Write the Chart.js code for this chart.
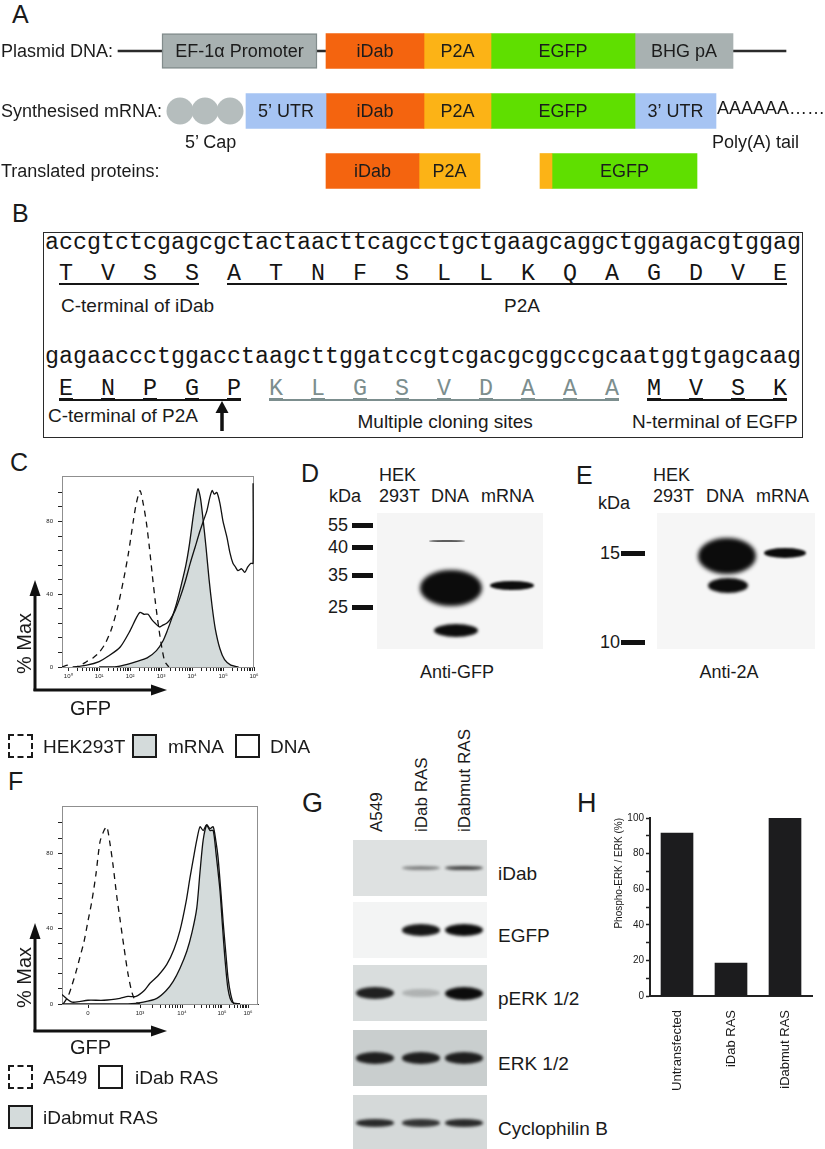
<!DOCTYPE html>
<html>
<head>
<meta charset="utf-8">
<script src="https://cdn.jsdelivr.net/npm/chart.js@4.4.1/dist/chart.umd.min.js"></script>
<style>
html, body { margin: 0; padding: 0; background: #fff; }
#fig { position: relative; width: 825px; height: 1149px; overflow: hidden; font-family: "Liberation Sans", Arial, sans-serif; color: #1a1a1a; }
.t { position: absolute; white-space: pre; line-height: 1; }
.box { position: absolute; box-sizing: border-box; }
canvas { position: absolute; }
</style>
</head>
<body>
<div id="fig"></div>
<script>
// ---------- A: construct map (map units across the figure)
var mapRows = ['Plasmid DNA:', 'Synthesised mRNA:', 'Translated proteins:'];
var backboneSeg = [[118, 786], null, null];
var promoterSeg = [[162, 317], null, null];
var utr5Seg = [null, [246, 326], null];
var idabSeg = [[326, 424], [326, 424], [326, 419]];
var p2aSeg = [[424, 491], [424, 491], [419, 480]];
var p2aTailSeg = [null, null, [540, 552]];
var egfpSeg = [[491, 635], [491, 635], [552, 697]];
var bhgSeg = [[635, 733], null, null];
var utr3Seg = [null, [635, 716], null];
var capBeads = [180, 205, 230];

// ---------- B: junction sequence
var seqRow1 = 'accgtctcgagcgctactaacttcagcctgctgaagcaggctggagacgtggag';
var aaRow1 = ['TVSS', 'ATNFSLLKQAGDVE'];
var regionRow1 = ['C-terminal of iDab', 'P2A'];
var seqRow2 = 'gagaaccctggacctaagcttggatccgtcgacgcggccgcaatggtgagcaag';
var aaRow2 = ['ENPGP', 'KLGSVDAAA', 'MVSK'];
var regionRow2 = ['C-terminal of P2A', 'Multiple cloning sites', 'N-terminal of EGFP'];

// ---------- C: HEK293T flow histograms (x = log10 GFP, y = % of max)
var cHekX = [-0.2, 0.0, 0.2, 0.4, 0.6, 0.8, 1.0, 1.2, 1.4, 1.6, 1.8, 1.95, 2.1, 2.2, 2.32, 2.42, 2.52, 2.62, 2.72, 2.82, 2.92, 3.02, 3.12, 3.25];
var cHekY = [0, 1, 0, 1, 3, 5, 8, 13, 21, 33, 49, 63, 80, 90, 97, 90, 80, 66, 50, 35, 22, 11, 3, 0];
var cMrnaX = [1.0, 1.5, 1.8, 2.2, 2.55, 2.85, 3.05, 3.2, 3.35, 3.5, 3.65, 3.8, 3.92, 4.03, 4.12, 4.19, 4.27, 4.35, 4.45, 4.55, 4.65, 4.75, 4.9, 5.05, 5.25, 5.5];
var cMrnaY = [0, 0, 1, 3, 5, 9, 14, 20, 27, 35, 45, 56, 68, 82, 92, 98, 93, 82, 66, 48, 33, 21, 10, 4, 1, 0];
var cDnaX = [0.2, 0.6, 1.0, 1.3, 1.68, 2.0, 2.2, 2.32, 2.45, 2.58, 2.7, 2.81, 2.95, 3.06, 3.18, 3.29, 3.45, 3.61, 3.78, 3.94, 4.1, 4.26, 4.38, 4.48, 4.57, 4.65, 4.72, 4.8, 4.9, 5.0, 5.13, 5.22, 5.32, 5.4, 5.48, 5.6, 5.7, 5.8, 5.9, 5.97, 5.97];
var cDnaY = [0, 1, 3, 6, 11, 20, 27, 30, 29, 29, 26, 24, 22, 23, 24, 26, 31, 38, 47, 57, 66, 75, 81, 86, 93, 97, 95, 96, 90, 80, 71, 63, 57, 55, 53, 54, 52, 55, 57, 57, 101];
var cTickLabels = ['10⁰', '10¹', '10²', '10³', '10⁴', '10⁵', '10⁶'];

// ---------- F: A549 flow histograms (x in display units of the biexponential axis)
var fTickPos = [0, 1.3, 2.35, 3.35, 4.0];
var fTickLabels = ['0', '10³', '10⁴', '10⁵', '10⁶'];
var fA549X = [-0.62, -0.5, -0.4, -0.3, -0.2, -0.1, 0.0, 0.1, 0.2, 0.3, 0.4, 0.47, 0.55, 0.63, 0.72, 0.8, 0.9, 1.0, 1.1, 1.2, 1.3];
var fA549Y = [0, 4, 10, 17, 25, 33, 44, 55, 69, 86, 92, 94, 85, 73, 57, 45, 30, 16, 6, 1, 0];
var fIdabX = [-0.65, -0.4, 0, 0.4, 0.8, 1.0, 1.2, 1.4, 1.55, 1.75, 1.97, 2.15, 2.3, 2.45, 2.55, 2.65, 2.72, 2.8, 2.88, 2.96, 3.05, 3.13, 3.2, 3.3, 3.36, 3.42, 3.5, 3.6, 3.8];
var fIdabY = [5, 1, 2, 2, 3, 4, 4, 7, 11, 15, 21, 29, 39, 54, 67, 79, 87, 94, 92, 95, 92, 92, 80, 60, 42, 25, 8, 1, 0];
var fMutX = [-0.65, 0.5, 1.0, 1.38, 1.72, 1.95, 2.13, 2.3, 2.47, 2.6, 2.72, 2.8, 2.88, 2.97, 3.05, 3.13, 3.2, 3.25, 3.32, 3.38, 3.45, 3.5, 3.57, 3.65, 3.8];
var fMutY = [0, 0, 0, 1, 3, 7, 12, 19, 28, 38, 51, 70, 87, 95, 93, 94, 86, 78, 60, 43, 26, 14, 5, 0, 0];

// ---------- D / E / G blots
var dLanes = ['293T', 'DNA', 'mRNA'];
var dMarkers = ['55', '40', '35', '25'];
var eMarkers = ['15', '10'];
var gLanes = ['A549', 'iDab RAS', 'iDabmut RAS'];
var gProbes = ['iDab', 'EGFP', 'pERK 1/2', 'ERK 1/2', 'Cyclophilin B'];
var gSignal = [[0, 0.45, 0.75], [0, 0.95, 1], [0.9, 0.2, 1], [0.9, 0.9, 0.9], [0.85, 0.8, 0.85]];

// ---------- H: densitometry
var hCategories = ['Untransfected', 'iDab RAS', 'iDabmut RAS'];
var hRatio = [91.5, 18.5, 100];

// ======================================================================
var fig = document.getElementById('fig');
var SANS = '"Liberation Sans", Arial, sans-serif';
var MONO = '"Liberation Mono", "Courier New", monospace';
Chart.defaults.font.family = SANS;
Chart.defaults.color = '#1a1a1a';

function txt(s, x, cy, size, opt) {
	opt = opt || {};
	var d = document.createElement('div');
	d.className = 't';
	d.textContent = s;
	d.style.fontSize = size + 'px';
	if (opt.family) d.style.fontFamily = opt.family;
	if (opt.color) d.style.color = opt.color;
	d.style.top = (cy - 0.49 * size) + 'px';
	fig.appendChild(d);
	var w = d.offsetWidth;
	var left = x;
	if (opt.align == 'center') left = x - w / 2;
	if (opt.align == 'right') left = x - w;
	d.style.left = left + 'px';
	return d;
};
function vtxt(s, cx, bottom, size) {
	var d = txt(s, 0, 0, size);
	d.style.left = (cx - 0.49 * size) + 'px';
	d.style.top = bottom + 'px';
	d.style.transformOrigin = '0 0';
	d.style.transform = 'rotate(-90deg)';
	return d;
};
function rect(x, y, w, h, css) {
	var d = document.createElement('div');
	d.className = 'box';
	d.style.left = x + 'px'; d.style.top = y + 'px';
	d.style.width = w + 'px'; d.style.height = h + 'px';
	for (var k in css) d.style[k] = css[k];
	fig.appendChild(d);
	return d;
};
function canvasAt(x, y, w, h) {
	var c = document.createElement('canvas');
	c.width = w; c.height = h;
	c.style.left = x + 'px'; c.style.top = y + 'px';
	c.style.width = w + 'px'; c.style.height = h + 'px';
	fig.appendChild(c);
	return c;
};
function zip(xs, ys) {
	return xs.map(function (x, i) { return { x: x, y: ys[i] }; });
};

// panel letters
txt('A', 12, 14, 25);
txt('B', 12, 213, 25);
txt('C', 10, 462, 25);
txt('D', 301, 473, 25);
txt('E', 576, 475, 25);
txt('F', 8, 781, 25);
txt('G', 302, 803, 27);
txt('H', 577, 803, 27);

// ---------------- A
var mapText = { id: 'mapText', afterDatasetsDraw: function (chart) {
	var ctx = chart.ctx, xs = chart.scales.x, ys = chart.scales.y;
	ctx.save();
	// 5' cap beads on the mRNA row
	ctx.fillStyle = '#b5bdbd';
	capBeads.forEach(function (v) {
		ctx.beginPath();
		ctx.arc(xs.getPixelForValue(v), ys.getPixelForValue(1), 13.5, 0, Math.PI * 2);
		ctx.fill();
	});
	ctx.font = '18px ' + SANS;
	ctx.fillStyle = '#1c1c1c';
	ctx.textBaseline = 'middle';
	ctx.textAlign = 'left';
	chart.data.labels.forEach(function (r, i) { ctx.fillText(r, 1, ys.getPixelForValue(i) + 1); });
	ctx.textAlign = 'center';
	chart.data.datasets.forEach(function (ds, i) {
		if (!ds.showText) return;
		chart.getDatasetMeta(i).data.forEach(function (bar, j) {
			if (ds.data[j]) ctx.fillText(ds.label, (bar.x + bar.base) / 2, bar.y + 1);
		});
	});
	ctx.restore();
}};
function seg(label, data, color, more) {
	var d = { label: label, data: data, backgroundColor: color, barThickness: 35, grouped: false, borderSkipped: false, showText: true };
	for (var k in more) d[k] = more[k];
	return d;
};
new Chart(canvasAt(0, 21, 825, 180), {
	type: 'bar',
	data: { labels: mapRows, datasets: [
		seg('EF-1α Promoter', promoterSeg, '#a8b1b1', { borderColor: '#828c8c', borderWidth: 1.5 }),
		seg('5’ UTR', utr5Seg, '#a6c4f3'),
		seg('iDab', idabSeg, '#f4640f'),
		seg('P2A', p2aSeg, '#fcb316'),
		seg('', p2aTailSeg, '#fcb316', { showText: false }),
		seg('EGFP', egfpSeg, '#5fdf00'),
		seg('BHG pA', bhgSeg, '#a8b1b1'),
		seg('3’ UTR', utr3Seg, '#a6c4f3'),
		seg('', backboneSeg, '#2b2b2b', { barThickness: 2, order: 5, showText: false })
	]},
	options: {
		indexAxis: 'y', responsive: false, animation: false,
		layout: { padding: 0 },
		plugins: { legend: { display: false }, tooltip: { enabled: false } },
		scales: { x: { type: 'linear', min: 0, max: 825, display: false }, y: { display: false } }
	},
	plugins: [mapText]
});
txt('5’ Cap', 185, 142, 18);
txt('AAAAAA……', 717, 108, 18);
txt('Poly(A) tail', 712, 142, 18);

// ---------------- B
rect(43, 232, 760, 206, { border: '1.5px solid #2a2a2a' });
var cw = 14, seqX0 = 45, MS = 23.33;
function codonX(k) { return seqX0 + (3 * k + 1.5) * cw; };
function seqBlock(seq, groups, colors, seqY, aaY, lineY) {
	txt(seq, seqX0, seqY, MS, { family: MONO, color: '#151515' }).style.top = (seqY - 0.497 * MS) + 'px';
	var k = 0;
	groups.forEach(function (g, gi) {
		var first = k;
		for (var i = 0; i < g.length; i++, k++) {
			var d = txt(g[i], codonX(k), aaY, MS, { family: MONO, color: colors[gi], align: 'center' });
			d.style.top = (aaY - 0.437 * MS) + 'px';
			d.style.textDecoration = 'underline';
			d.style.textDecorationThickness = '1.5px';
			d.style.textUnderlineOffset = '3px';
		}
		rect(codonX(first) - 7, lineY, codonX(k - 1) - codonX(first) + 14, 1.6, { background: colors[gi] });
	});
};
seqBlock(seqRow1, aaRow1, ['#151515', '#151515'], 244, 273, 283);
seqBlock(seqRow2, aaRow2, ['#151515', '#7c8e8e', '#151515'], 358, 388, 399);
txt(regionRow1[0], 61, 305, 19);
txt(regionRow1[1], 522, 305, 19, { align: 'center' });
txt(regionRow2[0], 48, 415, 19);
txt(regionRow2[1], 445, 421, 19, { align: 'center' });
txt(regionRow2[2], 798, 421, 19, { align: 'right' });

// ---------------- C / F flow histograms
var plotFrame = { id: 'plotFrame', beforeDatasetsDraw: function (c) {
	var a = c.chartArea, ctx = c.ctx;
	ctx.save();
	ctx.strokeStyle = '#8f8f8f';
	ctx.lineWidth = 1;
	ctx.strokeRect(a.left + 0.5, a.top + 0.5, a.right - a.left - 1, a.bottom - a.top);
	ctx.restore();
}};
function flowChart(cv, datasets, xMin, xMax, major, labels, minor, xHeight) {
	return new Chart(cv, {
		type: 'line',
		data: { datasets: datasets },
		options: {
			responsive: false, animation: false,
			layout: { padding: { top: 10, right: 8, left: 0, bottom: 0 } },
			plugins: { legend: { display: false }, tooltip: { enabled: false } },
			elements: { point: { radius: 0 }, line: { tension: 0.25, borderWidth: 1.3 } },
			scales: {
				x: {
					type: 'linear', min: xMin, max: xMax,
					afterBuildTicks: function (s) { s.ticks = major.concat(minor).map(function (v) { return { value: v }; }); },
					afterFit: function (s) { s.height = xHeight; },
					ticks: { autoSkip: false, maxRotation: 0, padding: 2, font: { size: 6 }, color: '#222',
						callback: function (v) { var i = major.indexOf(v); return i < 0 ? '' : labels[i]; } },
					grid: { drawOnChartArea: false, tickLength: 4, color: '#222' },
					border: { color: '#333', width: 1 }
				},
				y: {
					min: 0, max: 105,
					afterBuildTicks: function (s) { var t = []; for (var v = 0; v <= 100; v += 4) t.push({ value: v }); s.ticks = t; },
					afterFit: function (s) { s.width = 32; },
					ticks: { padding: 5, font: { size: 6 }, color: '#222',
						callback: function (v) { return v % 20 === 0 ? String(v) : ''; } },
					grid: { drawOnChartArea: false, tickLength: 4, color: '#222' },
					border: { color: '#8f8f8f', width: 1 }
				}
			}
		},
		plugins: [plotFrame]
	});
};

var cMajor = [0, 1, 2, 3, 4, 5, 6], cMinor = [];
for (var n = 0; n < 6; n++) for (var m = 2; m < 10; m++) cMinor.push(n + Math.log10(m));
flowChart(canvasAt(30, 466, 232, 224), [
	{ label: 'mRNA', data: zip(cMrnaX, cMrnaY), borderColor: '#111', backgroundColor: '#d4dbdb', fill: 'origin', order: 3 },
	{ label: 'HEK293T', data: zip(cHekX, cHekY), borderColor: '#111', borderDash: [6, 5], fill: false, order: 2 },
	{ label: 'DNA', data: zip(cDnaX, cDnaY), borderColor: '#111', fill: false, order: 1 }
], -0.2, 6.0, cMajor, cTickLabels, cMinor, 23);

var fMinor = [];
for (var q = 1; q < fTickPos.length - 1; q++) for (var m2 = 2; m2 < 10; m2++) fMinor.push(fTickPos[q] + (fTickPos[q + 1] - fTickPos[q]) * Math.log10(m2));
flowChart(canvasAt(30, 796, 236, 231), [
	{ label: 'iDabmut RAS', data: zip(fMutX, fMutY), borderColor: '#111', backgroundColor: '#d4dbdb', fill: 'origin', order: 3 },
	{ label: 'A549', data: zip(fA549X, fA549Y), borderColor: '#111', borderDash: [6, 5], fill: false, order: 2 },
	{ label: 'iDab RAS', data: zip(fIdabX, fIdabY), borderColor: '#111', fill: false, order: 1 }
], -0.65, 4.25, fTickPos, fTickLabels, fMinor, 23);

// axis arrows, titles and legends for C and F
vtxt('% Max', 24, 674, 20);
txt('GFP', 70, 708, 20);
vtxt('% Max', 24, 1008, 20);
txt('GFP', 70, 1047, 20);
var dashBox = { border: '2.5px dashed #1a1a1a' };
var greyBox = { border: '2.5px solid #1a1a1a', background: '#d4dbdb' };
var openBox = { border: '2.5px solid #1a1a1a', background: '#fff' };
rect(8, 734, 25, 24, dashBox); txt('HEK293T', 43, 746, 19);
rect(132, 734, 25, 24, greyBox); txt('mRNA', 168, 746, 19);
rect(235, 734, 25, 24, openBox); txt('DNA', 270, 746, 19);
rect(8, 1065, 25, 24, dashBox); txt(gLanes[0], 43, 1077, 19);
rect(98, 1065, 25, 24, openBox); txt(gLanes[1], 135, 1077, 19);
rect(8, 1105, 25, 24, greyBox); txt(gLanes[2], 43, 1117, 19);

// ---------------- D / E western blots
function band(cx, cy, w, h, a, blur) {
	rect(cx - w / 2, cy - h / 2, w, h, { background: '#0c0c0c', borderRadius: '50%', opacity: a, filter: 'blur(' + (blur || 1.5) + 'px)' });
};
rect(377, 513, 166, 136, { background: '#f5f5f5' });
txt('HEK', 379, 475, 18);
txt('kDa', 329, 496, 18);
txt(dLanes[0], 379, 496, 18); txt(dLanes[1], 431, 496, 18); txt(dLanes[2], 481, 496, 18);
[525, 547, 575, 607].forEach(function (y, i) { txt(dMarkers[i], 348, y, 18, { align: 'right' }); rect(352, y - 2.5, 21, 5, { background: '#111' }); });
band(447, 541, 36, 2.5, 0.65, 0.6);
band(451, 588, 62, 36, 1, 2);
band(456, 630, 44, 13, 1, 1.5);
band(512, 585, 44, 9, 1, 1.2);
txt('Anti-GFP', 457, 672, 18, { align: 'center' });

rect(657, 513, 158, 136, { background: '#f6f6f6' });
txt('HEK', 653, 475, 18);
txt('kDa', 598, 503, 18);
txt(dLanes[0], 653, 496, 18); txt(dLanes[1], 706, 496, 18); txt(dLanes[2], 756, 496, 18);
[553, 642].forEach(function (y, i) { txt(eMarkers[i], 620, y, 18, { align: 'right' }); rect(621, y - 2.5, 24, 5, { background: '#111' }); });
band(727, 556, 58, 36, 1, 2);
band(728, 585, 40, 15, 1, 1.5);
band(785, 553, 42, 10, 1, 1.2);
txt('Anti-2A', 729, 672, 18, { align: 'center' });

// ---------------- G
var laneX = [376, 421, 464];
var stripTop = [840, 902, 965, 1030, 1095];
var stripBg = ['#dee1e1', '#f3f4f4', '#d9dddd', '#c9cece', '#d5d9d9'];
var bandH = [5, 12, 13, 12, 8];
gLanes.forEach(function (l, i) { vtxt(l, laneX[i], 832, 17); });
gProbes.forEach(function (p, r) {
	rect(353, stripTop[r], 134, 56, { background: stripBg[r] });
	gSignal[r].forEach(function (s, i) {
		if (s > 0) band(laneX[i] + (i ? 0 : -1), stripTop[r] + 28, 38, bandH[r] * (0.6 + 0.4 * s), s, 1.4);
	});
	txt(p, 498, stripTop[r] + 33, 19);
});

// ---------------- H
new Chart(canvasAt(596, 808, 229, 298), {
	type: 'bar',
	data: { labels: hCategories, datasets: [{ data: hRatio, backgroundColor: '#1c1c1e', barThickness: 32 }] },
	options: {
		responsive: false, animation: false,
		layout: { padding: { top: 10, right: 13, left: 0, bottom: 0 } },
		plugins: { legend: { display: false }, tooltip: { enabled: false } },
		scales: {
			x: {
				grid: { display: false },
				border: { color: '#222', width: 2 },
				ticks: { minRotation: 90, maxRotation: 90, padding: 6, font: { size: 13 }, color: '#1a1a1a' },
				afterFit: function (s) { s.height = 110; }
			},
			y: {
				min: 0, max: 100,
				ticks: { stepSize: 10, padding: 2, font: { size: 10 }, color: '#1a1a1a',
					callback: function (v) { return v % 20 === 0 ? String(v) : ''; } },
				grid: { drawOnChartArea: false, tickLength: 4, color: '#222', tickWidth: 1.5 },
				border: { color: '#222', width: 2 },
				title: { display: true, text: 'Phospho-ERK / ERK (%)', align: 'end', font: { size: 10 }, padding: { top: 17, bottom: 0 } },
				afterFit: function (s) { s.width = 54; }
			}
		}
	}
});

// ---------------- arrows
var svgNS = 'http://www.w3.org/2000/svg';
var svg = document.createElementNS(svgNS, 'svg');
svg.setAttribute('width', 825); svg.setAttribute('height', 1149);
svg.style.position = 'absolute'; svg.style.left = '0'; svg.style.top = '0';
fig.appendChild(svg);
function sline(x1, y1, x2, y2, w) {
	var l = document.createElementNS(svgNS, 'line');
	l.setAttribute('x1', x1); l.setAttribute('y1', y1); l.setAttribute('x2', x2); l.setAttribute('y2', y2);
	l.setAttribute('stroke', '#111'); l.setAttribute('stroke-width', w);
	svg.appendChild(l);
};
function spoly(pts) {
	var p = document.createElementNS(svgNS, 'polygon');
	p.setAttribute('points', pts); p.setAttribute('fill', '#111');
	svg.appendChild(p);
};
// C
sline(35, 691, 35, 592, 3); spoly('35,580 29.5,596 40.5,596');
sline(33.5, 690, 155, 690, 3); spoly('167,690 151,684.5 151,695.5');
// F
sline(35, 1032, 35, 935, 3); spoly('35,923 29.5,939 40.5,939');
sline(33.5, 1031, 155, 1031, 3); spoly('167,1031 151,1025.5 151,1036.5');
// B cleavage site
sline(222, 431, 222, 410, 3.5); spoly('222,401 215.5,413 228.5,413');
</script>
</body>
</html>
